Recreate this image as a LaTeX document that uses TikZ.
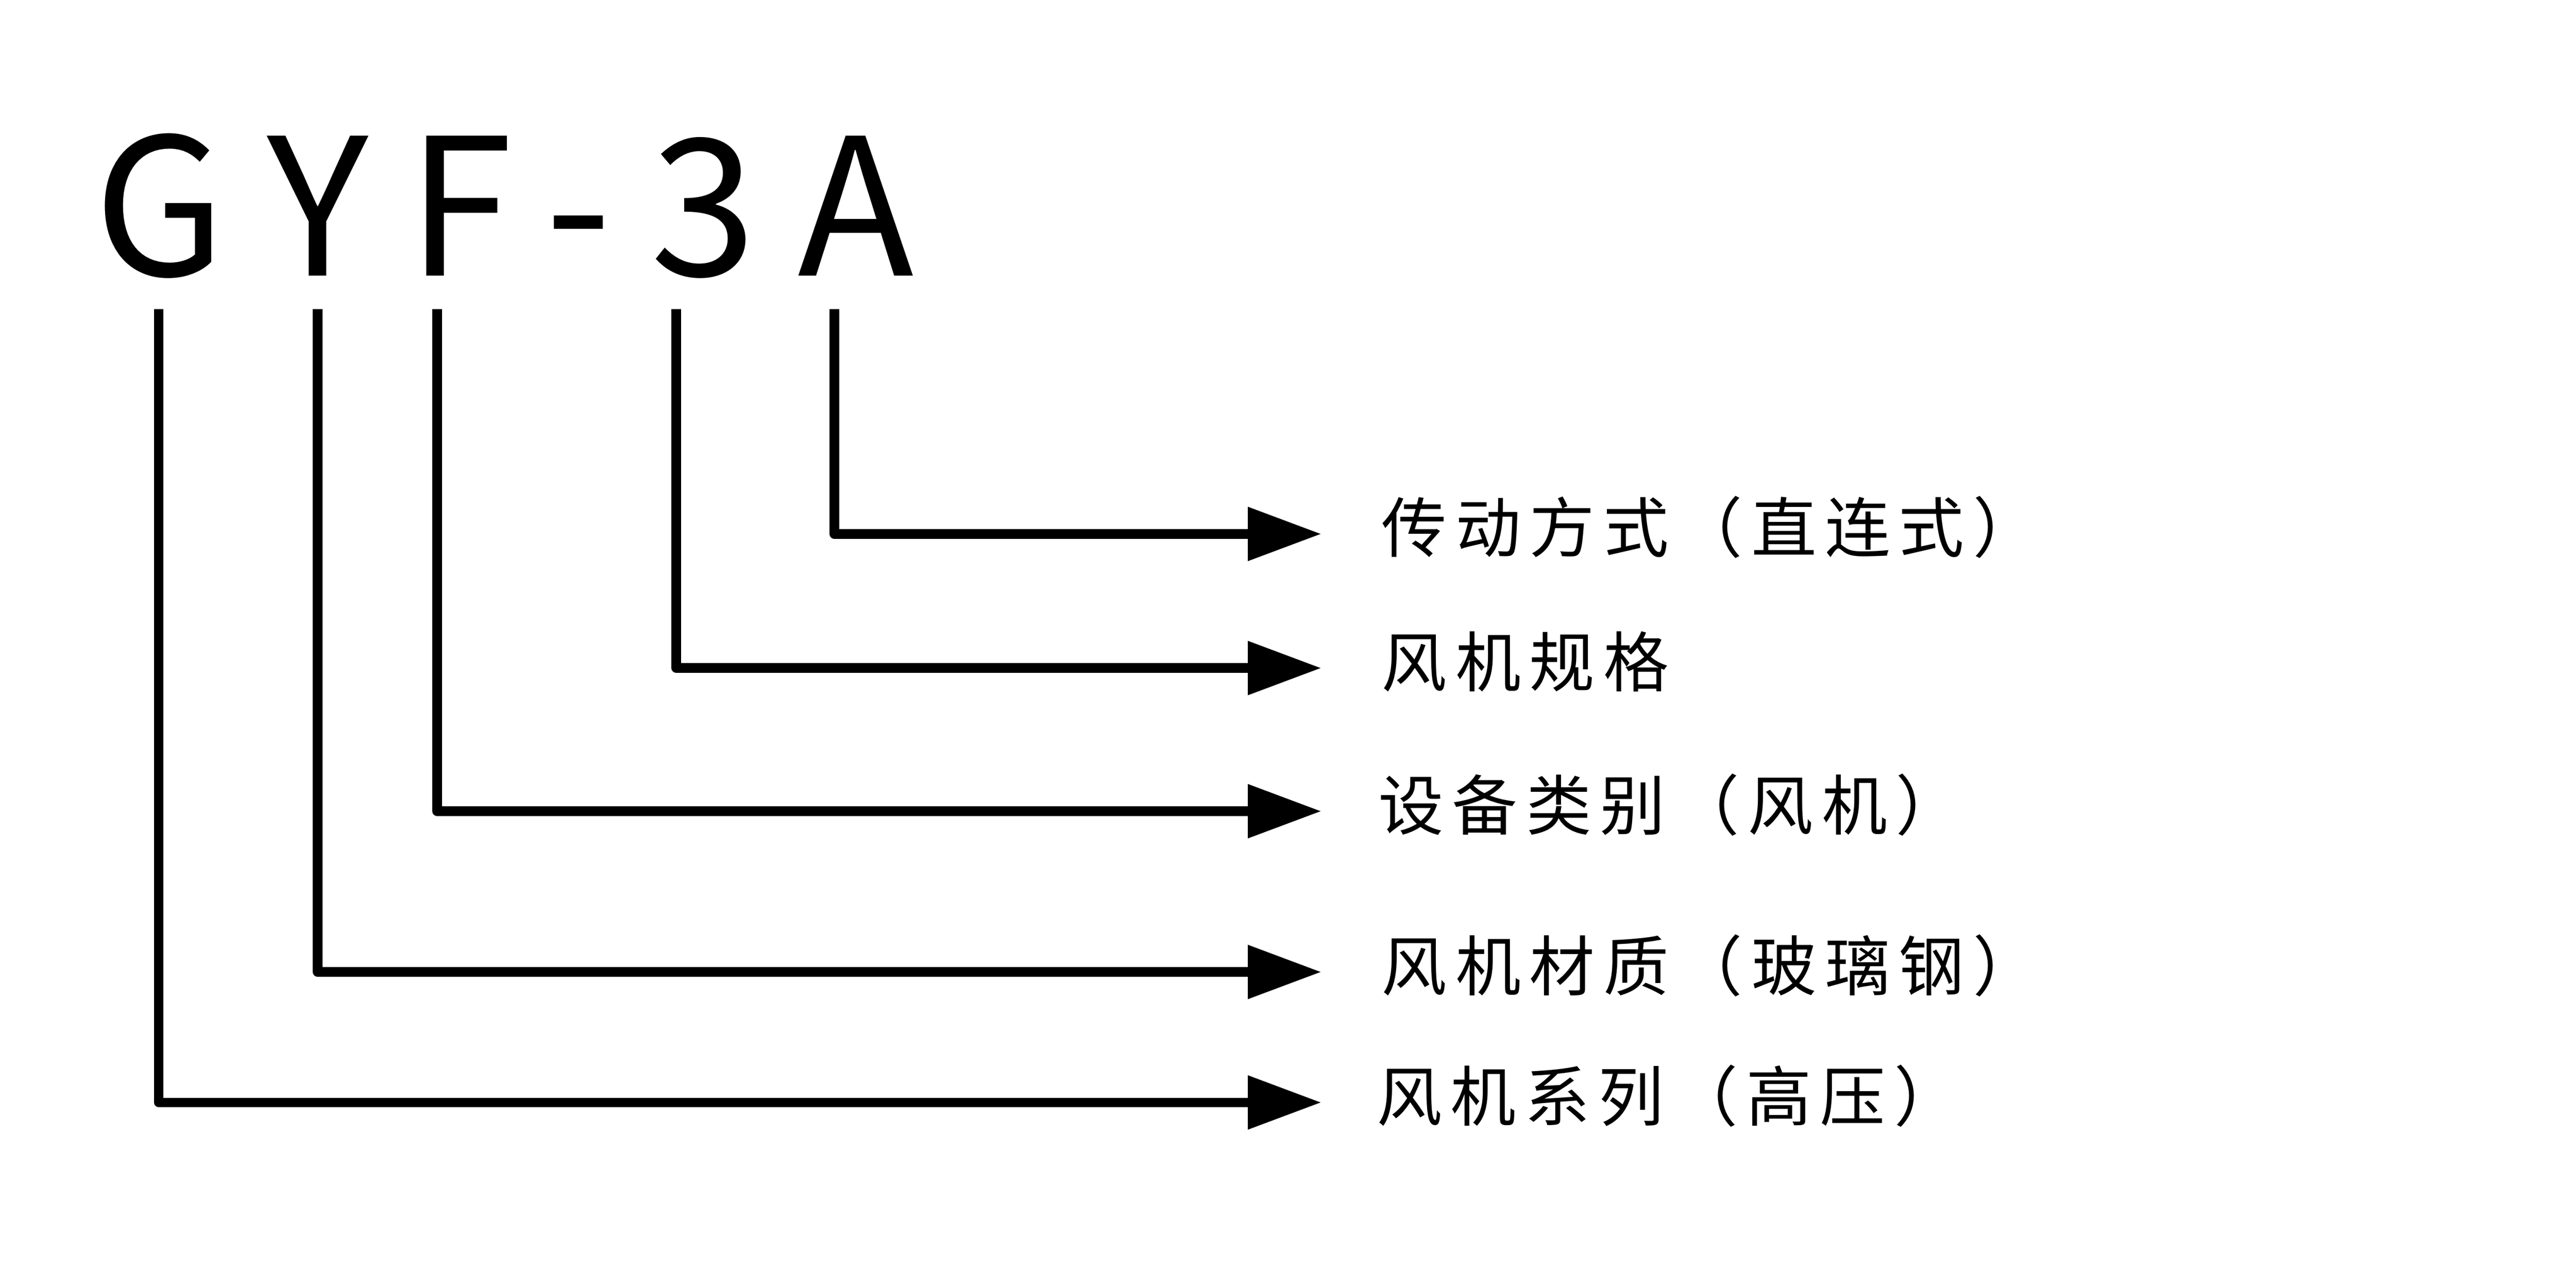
\documentclass[tikz,border=0pt]{standalone}
\usepackage{fontspec}
\setmainfont{Noto Sans CJK SC}
\newfontfamily\cjk[LetterSpace=13]{Noto Sans CJK SC}
\usetikzlibrary{arrows.meta}
\begin{document}
\begin{tikzpicture}[x=0.01cm,y=-0.01cm,
  letter/.style={anchor=base, inner sep=0pt, font=\fontsize{33pt}{33pt}\selectfont},
  lab/.style={anchor=west, inner ysep=0pt, inner xsep=0.36cm, font=\cjk\fontsize{11.3pt}{11.3pt}\selectfont},
  conn/.style={line width=1.64pt, line join=round, -{Triangle[length=12.7pt,width=8.93pt]}}]
\useasboundingbox[fill=white] (0,0) rectangle (1565.5,782.75);
% title letters
\node[letter] (g) at (97,167.75) {G};
\node[letter] (y) at (193,167.75) {Y};
\node[letter] (f) at (279.5,167.75) {F};
\node[letter] (dash) at (351.5,167.75) {-};
\node[letter] (three) at (427.5,167.75) {3};
\node[letter] (a) at (520,167.75) {A};
% line starts
\coordinate (gtop) at (96.5,188);
\coordinate (ytop) at (193,188);
\coordinate (ftop) at (265.6,188);
\coordinate (ttop) at (411,188);
\coordinate (atop) at (507,188);
% labels (text sits slightly above its arrow)
\node[lab] (la) at (803,320.5) {传动方式（直连式）};
\node[lab] (lt) at (803,402) {风机规格};
\node[lab] (lf) at (801,489) {设备类别（风机）};
\node[lab] (ly) at (803,586.7) {风机材质（玻璃钢）};
\node[lab] (lg) at (800,666) {风机系列（高压）};
% connectors
\draw[conn] (atop) |- ([yshift=-0.04cm]la.west);
\draw[conn] (ttop) |- ([yshift=-0.04cm]lt.west);
\draw[conn] (ftop) |- ([xshift=0.02cm,yshift=-0.04cm]lf.west);
\draw[conn] (ytop) |- ([yshift=-0.04cm]ly.west);
\draw[conn] (gtop) |- ([xshift=0.03cm,yshift=-0.04cm]lg.west);
\end{tikzpicture}
\end{document}
